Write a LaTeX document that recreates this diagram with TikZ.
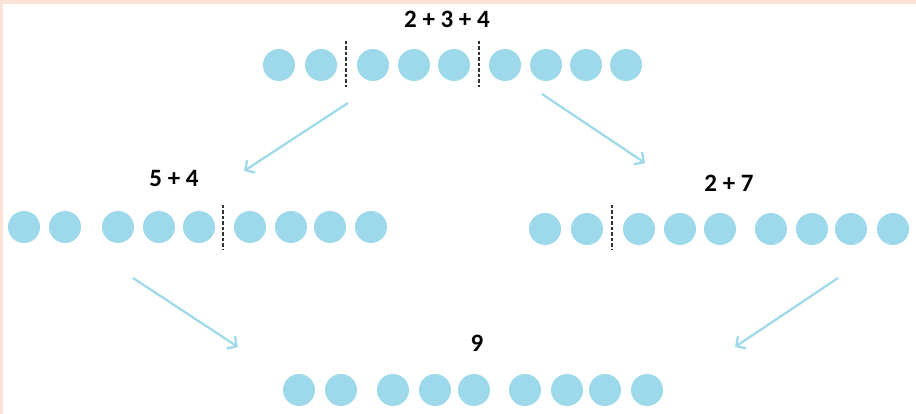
\documentclass[tikz,border=0pt]{standalone}
\usepackage{fontspec}
\setmainfont{Carlito}
\usepackage{xcolor}
\usetikzlibrary{arrows.meta, positioning}
\definecolor{beadblue}{RGB}{157, 217, 234}
\definecolor{arrowblue}{RGB}{160, 218, 234}
\definecolor{framepeach}{RGB}{253, 227, 214}
\definecolor{splitgray}{RGB}{50, 50, 50}

\begin{document}
\begin{tikzpicture}[x=1pt, y=-1pt,
    bead/.style={circle, fill=beadblue, minimum size=32pt, inner sep=0pt},
    sumlabel/.style={font=\fontsize{25}{27}\selectfont\bfseries},
    split/.style={draw=splitgray, dash pattern=on 3.5pt off 2pt, line width=1.4pt},
    flow/.style={draw=arrowblue, line width=2.3pt, -{Straight Barb[length=7pt, width=15pt]}}]
        \useasboundingbox (0,0) rectangle (916,414);
        % frame edges (peach)
        \fill[framepeach] (0,0) rectangle (916,4);
        \fill[framepeach] (0,0) rectangle (3,414);

        % top row: 2 + 3 + 4
        \node[sumlabel] (toplbl) at (447,19) {2 + 3 + 4};
        \foreach \x [count=\i] in {279, 321, 373, 414, 454, 505, 546, 586, 626}{
          \node[bead] (t\i) at (\x,65) {};
        }
        \draw[split] (346,41) -- (346,87);
        \draw[split] (479,41) -- (479,87);

        % middle left: 5 + 4
        \node[sumlabel] (leftlbl) at (174,178) {5 + 4};
        \foreach \x [count=\i] in {24, 65, 118, 159, 199, 250, 291, 330, 371}{
          \node[bead] (l\i) at (\x,227) {};
        }
        \draw[split] (223,205) -- (223,250);

        % middle right: 2 + 7
        \node[sumlabel] (rightlbl) at (729,183) {2 + 7};
        \foreach \x [count=\i] in {545, 587, 639, 680, 720, 771, 812, 851, 893}{
          \node[bead] (r\i) at (\x,229) {};
        }
        \draw[split] (612,205) -- (612,250);

        % bottom row: 9
        \node[sumlabel] (botlbl) at (477,343) {9};
        \foreach \x [count=\i] in {299, 341, 393, 435, 474, 525, 567, 605, 647}{
          \node[bead] (b\i) at (\x,390) {};
        }

        % arrow ends
        \coordinate (a1s) at (348,103);  \coordinate (a1e) at (244,171);
        \coordinate (a2s) at (542,94);   \coordinate (a2e) at (645,163);
        \coordinate (a3s) at (133,278);  \coordinate (a3e) at (238,347);
        \coordinate (a4s) at (838,278);  \coordinate (a4e) at (735,347);
        \draw[flow] (a1s) -- (a1e);
        \draw[flow] (a2s) -- (a2e);
        \draw[flow] (a3s) -- (a3e);
        \draw[flow] (a4s) -- (a4e);
      \end{tikzpicture}
\end{document}
